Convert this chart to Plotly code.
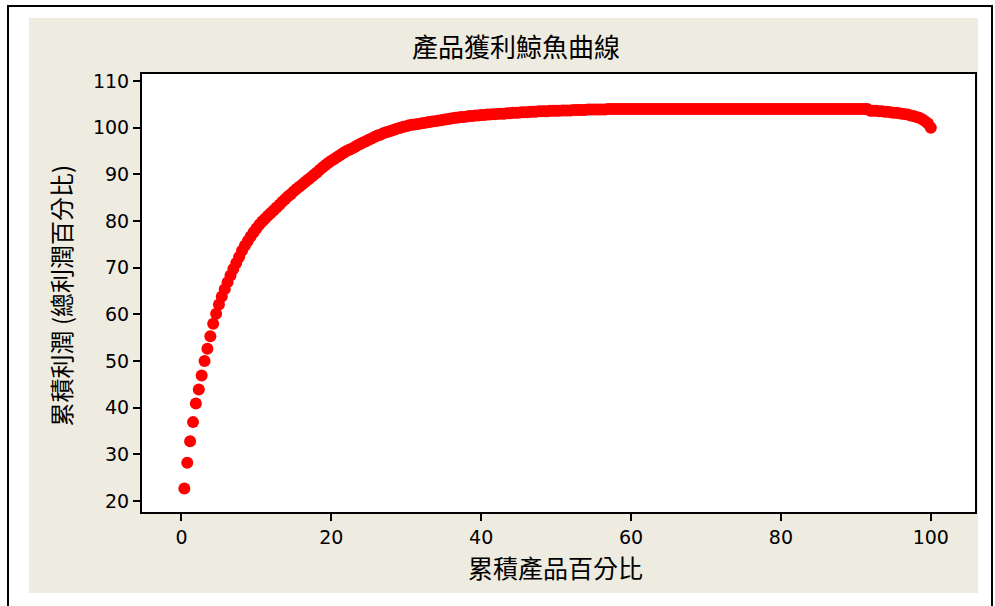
import plotly.graph_objects as go

# Cumulative product percentage (x)
cum_product_pct = [
    0.38, 0.77, 1.15, 1.54, 1.92, 2.31, 2.69, 3.08, 3.46, 3.85, 4.23, 4.62, 5.00,
    5.38, 5.77, 6.15, 6.54, 6.92, 7.31, 7.69, 8.08, 8.46, 8.85, 9.23, 9.62, 10.00,
    10.38, 10.77, 11.15, 11.54, 11.92, 12.31, 12.69, 13.08, 13.46, 13.85, 14.23, 14.62, 15.00,
    15.38, 15.77, 16.15, 16.54, 16.92, 17.31, 17.69, 18.08, 18.46, 18.85, 19.23, 19.62, 20.00,
    20.38, 20.77, 21.15, 21.54, 21.92, 22.31, 22.69, 23.08, 23.46, 23.85, 24.23, 24.62, 25.00,
    25.38, 25.77, 26.15, 26.54, 26.92, 27.31, 27.69, 28.08, 28.46, 28.85, 29.23, 29.62, 30.00,
    30.38, 30.77, 31.15, 31.54, 31.92, 32.31, 32.69, 33.08, 33.46, 33.85, 34.23, 34.62, 35.00,
    35.38, 35.77, 36.15, 36.54, 36.92, 37.31, 37.69, 38.08, 38.46, 38.85, 39.23, 39.62, 40.00,
    40.38, 40.77, 41.15, 41.54, 41.92, 42.31, 42.69, 43.08, 43.46, 43.85, 44.23, 44.62, 45.00,
    45.38, 45.77, 46.15, 46.54, 46.92, 47.31, 47.69, 48.08, 48.46, 48.85, 49.23, 49.62, 50.00,
    50.38, 50.77, 51.15, 51.54, 51.92, 52.31, 52.69, 53.08, 53.46, 53.85, 54.23, 54.62, 55.00,
    55.38, 55.77, 56.15, 56.54, 56.92, 57.31, 57.69, 58.08, 58.46, 58.85, 59.23, 59.62, 60.00,
    60.38, 60.77, 61.15, 61.54, 61.92, 62.31, 62.69, 63.08, 63.46, 63.85, 64.23, 64.62, 65.00,
    65.38, 65.77, 66.15, 66.54, 66.92, 67.31, 67.69, 68.08, 68.46, 68.85, 69.23, 69.62, 70.00,
    70.38, 70.77, 71.15, 71.54, 71.92, 72.31, 72.69, 73.08, 73.46, 73.85, 74.23, 74.62, 75.00,
    75.38, 75.77, 76.15, 76.54, 76.92, 77.31, 77.69, 78.08, 78.46, 78.85, 79.23, 79.62, 80.00,
    80.38, 80.77, 81.15, 81.54, 81.92, 82.31, 82.69, 83.08, 83.46, 83.85, 84.23, 84.62, 85.00,
    85.38, 85.77, 86.15, 86.54, 86.92, 87.31, 87.69, 88.08, 88.46, 88.85, 89.23, 89.62, 90.00,
    90.38, 90.77, 91.15, 91.54, 91.92, 92.31, 92.69, 93.08, 93.46, 93.85, 94.23, 94.62, 95.00,
    95.38, 95.77, 96.15, 96.54, 96.92, 97.31, 97.69, 98.08, 98.46, 98.85, 99.23, 99.62, 100.00,
]

# Cumulative profit as % of total profit (y)
cum_profit_pct = [
    22.7, 28.2, 32.8, 36.9, 40.9, 43.9, 46.9, 50.0, 52.6, 55.3, 58.0, 60.1, 62.1,
    63.8, 65.4, 66.9, 68.3, 69.7, 71.0, 72.3, 73.6, 74.7, 75.7, 76.7, 77.6, 78.4,
    79.2, 79.9, 80.5, 81.1, 81.7, 82.3, 82.9, 83.5, 84.1, 84.7, 85.3, 85.8, 86.4,
    86.9, 87.4, 87.9, 88.4, 88.9, 89.4, 89.9, 90.4, 91.0, 91.5, 92.0, 92.5, 92.9,
    93.3, 93.7, 94.1, 94.5, 94.9, 95.2, 95.5, 95.8, 96.2, 96.5, 96.8, 97.1, 97.4,
    97.7, 98.0, 98.3, 98.5, 98.8, 99.0, 99.2, 99.4, 99.6, 99.8, 100.0, 100.2, 100.3,
    100.5, 100.6, 100.7, 100.8, 100.9, 101.0, 101.1, 101.2, 101.3, 101.4, 101.5, 101.6, 101.7,
    101.8, 101.9, 102.0, 102.1, 102.2, 102.3, 102.3, 102.4, 102.5, 102.5, 102.6, 102.6, 102.7,
    102.7, 102.8, 102.8, 102.9, 102.9, 103.0, 103.0, 103.0, 103.1, 103.1, 103.2, 103.2, 103.2,
    103.3, 103.3, 103.3, 103.4, 103.4, 103.4, 103.5, 103.5, 103.5, 103.5, 103.6, 103.6, 103.6,
    103.6, 103.7, 103.7, 103.7, 103.7, 103.8, 103.8, 103.8, 103.8, 103.8, 103.9, 103.9, 103.9,
    103.9, 103.9, 103.9, 103.9, 104.0, 104.0, 104.0, 104.0, 104.0, 104.0, 104.0, 104.0, 104.0,
    104.0, 104.0, 104.0, 104.0, 104.0, 104.0, 104.0, 104.0, 104.0, 104.0, 104.0, 104.0, 104.0,
    104.0, 104.0, 104.0, 104.0, 104.0, 104.0, 104.0, 104.0, 104.0, 104.0, 104.0, 104.0, 104.0,
    104.0, 104.0, 104.0, 104.0, 104.0, 104.0, 104.0, 104.0, 104.0, 104.0, 104.0, 104.0, 104.0,
    104.0, 104.0, 104.0, 104.0, 104.0, 104.0, 104.0, 104.0, 104.0, 104.0, 104.0, 104.0, 104.0,
    104.0, 104.0, 104.0, 104.0, 104.0, 104.0, 104.0, 104.0, 104.0, 104.0, 104.0, 104.0, 104.0,
    104.0, 104.0, 104.0, 104.0, 104.0, 104.0, 104.0, 104.0, 104.0, 104.0, 104.0, 104.0, 104.0,
    104.0, 104.0, 104.0, 104.0, 103.6, 103.6, 103.6, 103.5, 103.5, 103.4, 103.4, 103.3, 103.2,
    103.2, 103.1, 103.0, 102.9, 102.8, 102.6, 102.5, 102.3, 102.1, 101.8, 101.4, 100.9, 100.0,
]

x_ticks = [0, 20, 40, 60, 80, 100]
y_ticks = [20, 30, 40, 50, 60, 70, 80, 90, 100, 110]

title_text = "產品獲利鯨魚曲線"
x_title = "累積產品百分比"
y_title = "累積利潤 (總利潤百分比)"

W, H = 995, 606
L, R, T, B = 142, 975, 74, 512  # plot area in pixels
pw, ph = R - L, B - T


def px(x):
    return (x - L) / pw


def py(y):
    return (B - y) / ph


CJK = "Noto Sans CJK TC"
NUM = "DejaVu Sans"

fig = go.Figure()
fig.add_trace(go.Scatter(
    x=cum_product_pct, y=cum_profit_pct, mode="markers",
    marker=dict(color="#FF0000", size=12, line=dict(width=0)),
    hoverinfo="x+y", showlegend=False,
))

shapes = [
    # beige panel
    dict(type="rect", xref="paper", yref="paper", layer="below",
         x0=px(29), x1=px(978), y0=py(593), y1=py(18),
         fillcolor="#EEEBE1", line=dict(width=0)),
    # white plot area
    dict(type="rect", xref="paper", yref="paper", layer="below",
         x0=0, x1=1, y0=0, y1=1, fillcolor="white", line=dict(width=0)),
    # outer black frame
    dict(type="rect", xref="paper", yref="paper", layer="below",
         x0=px(8), x1=px(992), y0=py(620), y1=py(6),
         fillcolor="rgba(0,0,0,0)", line=dict(color="black", width=2)),
]

annotations = [
    dict(text=title_text, xref="paper", yref="paper", x=px(515.5), y=py(45),
         showarrow=False, xanchor="center", yanchor="middle",
         font=dict(family=CJK, size=26, color="black")),
    dict(text=x_title, xref="paper", yref="paper", x=px(555), y=py(567),
         showarrow=False, xanchor="center", yanchor="middle",
         font=dict(family=CJK, size=25, color="black")),
    dict(text=y_title, xref="paper", yref="paper", x=px(60), y=py(295.5),
         showarrow=False, xanchor="center", yanchor="middle", textangle=-90,
         font=dict(family=CJK, size=24, color="black")),
]

axis_common = dict(
    showgrid=False, zeroline=False, showline=True, mirror=True,
    linecolor="black", linewidth=2, ticks="outside", ticklen=7,
    tickwidth=1.5, tickcolor="black",
    tickfont=dict(family=NUM, size=19, color="black"),
)

fig.update_layout(
    width=W, height=H, autosize=False,
    margin=dict(l=L, r=W - R, t=T, b=H - B, pad=0),
    paper_bgcolor="white", plot_bgcolor="rgba(0,0,0,0)",
    shapes=shapes, annotations=annotations,
    xaxis=dict(range=[-5.27, 105.9], tickvals=x_ticks, **axis_common),
    yaxis=dict(range=[17.64, 111.5], tickvals=y_ticks, **axis_common),
    showlegend=False,
)

fig.write_html(
    "out.html",
    config={"displayModeBar": False},
    post_script="document.body.style.margin='0';document.body.style.overflow='hidden';",
)
